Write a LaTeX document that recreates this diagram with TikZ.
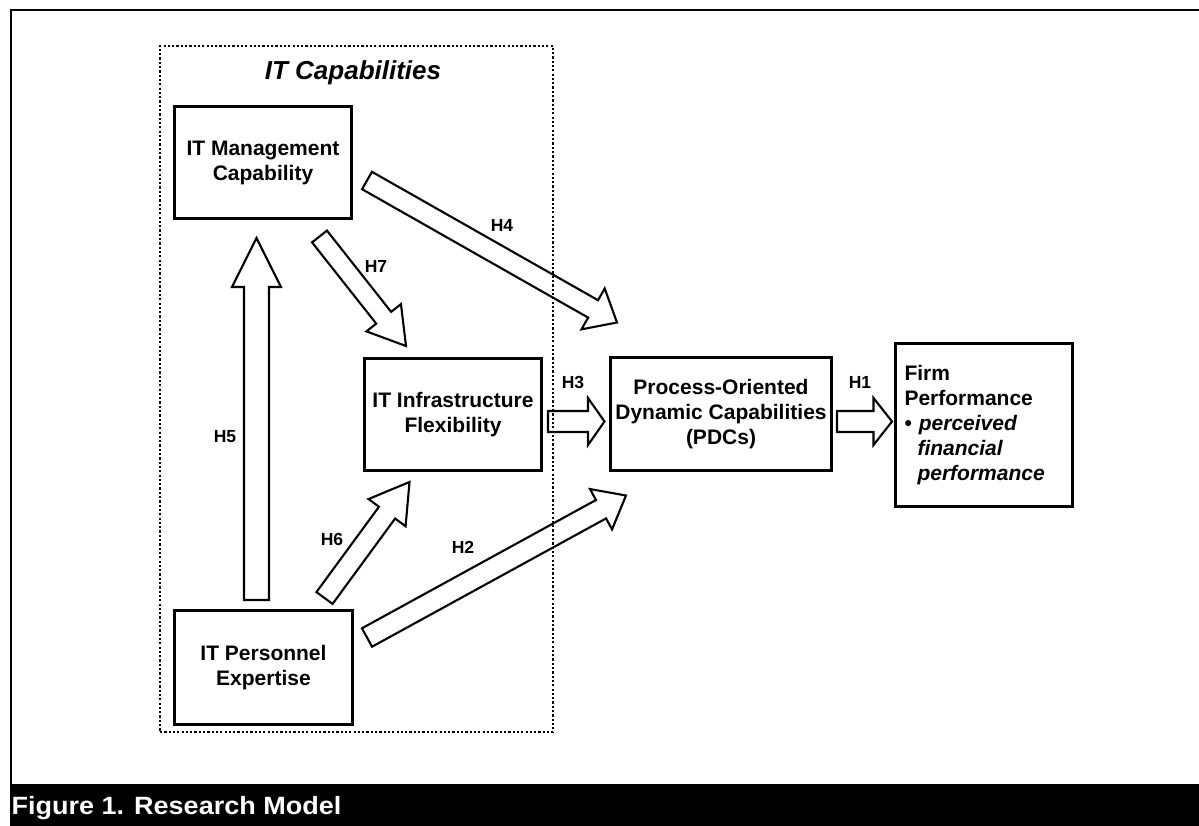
\documentclass[tikz,border=0pt]{standalone}
\usepackage{fontspec}
\setmainfont{Liberation Sans}
\usetikzlibrary{calc}

\tikzset{
  box/.style={draw, line width=2.8pt, inner sep=2pt, align=center,
    font=\bfseries\fontsize{21}{25}\selectfont},
  capframe/.style={draw, line width=2.5pt, dash pattern=on 2.2pt off 2.1pt},
  hyp/.style={font=\bfseries\fontsize{17.5}{20}\selectfont, inner sep=0pt},
  blockarr/.style={draw, line width=2.1pt, line join=miter},
}

% block arrow: name, tail, tip, shaft half width, head half width, head length
\newcommand{\blockarrow}[6]{%
  \coordinate (#1-hb) at ($(#3)!#6!(#2)$);
  \draw[blockarr]
    ($(#2)!#4!90:(#3)$) -- ($(#1-hb)!#4!90:(#3)$) -- ($(#1-hb)!#5!90:(#3)$)
    -- (#3)
    -- ($(#1-hb)!#5!-90:(#3)$) -- ($(#1-hb)!#4!-90:(#3)$) -- ($(#2)!#4!-90:(#3)$)
    -- cycle;
}

\begin{document}
\begin{tikzpicture}[x=1pt, y=-1pt]
\useasboundingbox (0,0) rectangle (1199,826);

% page frame and caption bar
\draw[line width=2pt] (11,784) -- (11,10.2) -- (1201,10.2);
\fill[black] (10,784) rectangle (1201,827);
\node[anchor=base west, inner sep=0pt, text=white,
      font=\bfseries\fontsize{25}{30}\selectfont] (caption) at (11.5,814)
      {\scalebox{1.08}[1]{Figure 1. Research Model}};

% IT capabilities group
\node[capframe, minimum width=393pt, minimum height=686pt] (itcap) at (356.5,389) {};
\node[font=\bfseries\itshape\fontsize{26}{30}\selectfont, inner sep=0pt] (itcaptitle) at (353,73) {IT Capabilities};

% constructs
\node[box, minimum width=177pt, minimum height=112pt] (mgmt) at (263,162.5) {IT Management\\Capability};
\node[box, minimum width=178pt, minimum height=114pt] (pers) at (263.5,667.5) {IT Personnel\\Expertise};
\node[box, minimum width=177pt, minimum height=112pt] (infra) at (453,414.5) {IT Infrastructure\\Flexibility};
\node[box, minimum width=221pt, minimum height=113pt] (pdc) at (721,414) {Process-Oriented\\Dynamic Capabilities\\(PDCs)};
\node[box, align=left, text width=159pt, inner xsep=9pt, minimum height=163pt] (firm) at (984,425)
  {Firm\\Performance\\\textbullet\ \textit{perceived}\\\hspace*{13pt}\textit{financial}\\\hspace*{13pt}\textit{performance}};

% arrow end points
\coordinate (h5t) at (256.5,600);   \coordinate (h5p) at (256.5,238);
\coordinate (h7t) at (319.5,236.5); \coordinate (h7p) at (406,346);
\coordinate (h4t) at (367,180.5);   \coordinate (h4p) at (617,322.5);
\coordinate (h6t) at (324.5,598);   \coordinate (h6p) at (409.5,482);
\coordinate (h2t) at (367,637.5);   \coordinate (h2p) at (626,495.5);
\coordinate (h3t) at (548,421.5);   \coordinate (h3p) at (604.5,421.5);
\coordinate (h1t) at (837,421.5);   \coordinate (h1p) at (892,421.5);

\blockarrow{h5}{h5t}{h5p}{12.5pt}{24.5pt}{49pt}
\blockarrow{h7}{h7t}{h7p}{9.5pt}{22pt}{36pt}
\blockarrow{h4}{h4t}{h4p}{10pt}{23.5pt}{27.5pt}
\blockarrow{h6}{h6t}{h6p}{10pt}{23pt}{38pt}
\blockarrow{h2}{h2t}{h2p}{10.5pt}{23pt}{28.5pt}
\blockarrow{h3}{h3t}{h3p}{10.5pt}{23.5pt}{16.5pt}
\blockarrow{h1}{h1t}{h1p}{10.5pt}{23.5pt}{18.5pt}

% hypothesis labels
\node[hyp] (lh1) at (860,382) {H1};
\node[hyp] (lh2) at (463,547) {H2};
\node[hyp] (lh3) at (573,382) {H3};
\node[hyp] (lh4) at (502,225) {H4};
\node[hyp] (lh5) at (225,437) {H5};
\node[hyp] (lh6) at (332,539) {H6};
\node[hyp] (lh7) at (376,266) {H7};
\end{tikzpicture}
\end{document}
